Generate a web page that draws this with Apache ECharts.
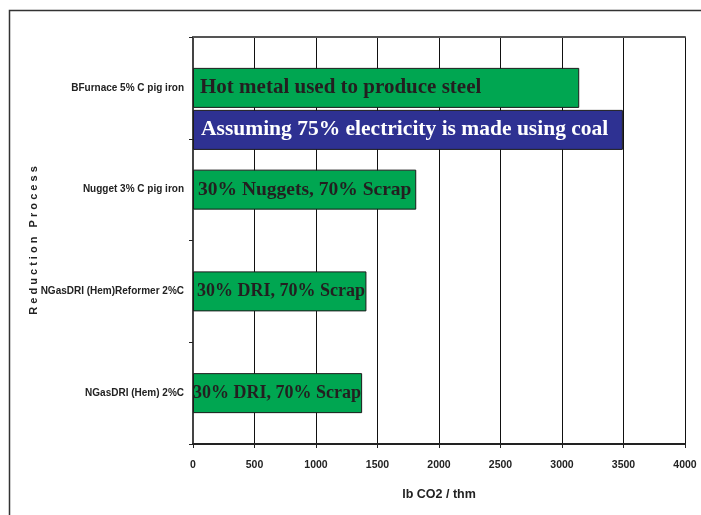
<!DOCTYPE html>
<html>
<head>
<meta charset="utf-8">
<script src="https://cdn.jsdelivr.net/npm/echarts@6/dist/echarts.min.js"></script>
<style>
  html, body { margin: 0; padding: 0; background: #fff; }
  #chart { width: 701px; height: 515px; }
</style>
</head>
<body>
<div id="chart"></div>
<script>
// Reduction processes, top to bottom
const processes = [
  'BFurnace 5% C pig iron',
  'Nugget 3% C pig iron',
  'NGasDRI (Hem)Reformer 2%C',
  'NGasDRI (Hem) 2%C'
];
// lb CO2 per tonne of hot metal (green bars)
const co2Values = [3140, 1815, 1410, 1375];
const co2Notes = [
  'Hot metal used to produce steel',
  '30% Nuggets, 70% Scrap',
  '30% DRI, 70% Scrap',
  '30% DRI, 70% Scrap'
];
// Blast furnace case with coal-fired electricity (blue bar)
const coalValues = [3495, null, null, null];
const coalNotes = ['Assuming 75% electricity is made using coal', '', '', ''];
// Value axis ticks
const xMin = 0, xMax = 4000, xStep = 500;

const labelFont = '"Liberation Sans", Arial, sans-serif';
const barFont = '"Liberation Serif", "Times New Roman", serif';
// inner padding and text size of each note inside its bar
const notePad = [7, 5, 4, 0];
const noteSize = [21, 19.5, 18, 18];

const plotLeft = 193, plotRight = 16, plotTop = 37, plotBottom = 71;
const bandShift = 42;

const chart = echarts.init(document.getElementById('chart'), null, { renderer: 'canvas' });

const option = {
  animation: false,
  backgroundColor: '#fff',
  graphic: [{
    type: 'rect',
    shape: { x: 9.5, y: 10.5, width: 760, height: 560 },
    style: { fill: 'none', stroke: '#333', lineWidth: 1.5 },
    silent: true,
    z: 0
  }],
  grid: [
    { left: plotLeft, right: plotRight, top: plotTop, bottom: plotBottom, containLabel: false, outerBoundsMode: 'none' },
    { left: plotLeft, right: plotRight, top: plotTop + bandShift, bottom: plotBottom - bandShift, containLabel: false, outerBoundsMode: 'none' }
  ],
  xAxis: [
    {
      type: 'value', gridIndex: 0, min: xMin, max: xMax, interval: xStep,
      position: 'bottom',
      name: 'lb CO2 / thm', nameLocation: 'middle', nameGap: 44, nameMoveOverlap: false,
      nameTextStyle: { fontFamily: labelFont, fontWeight: 'bold', fontSize: 12.5, color: '#222' },
      axisLine: { show: true, onZero: false, lineStyle: { color: '#222', width: 2 } },
      axisTick: { show: true, length: 4, lineStyle: { color: '#222' } },
      axisLabel: {
        fontFamily: labelFont, fontWeight: 'bold', fontSize: 10.5, color: '#222', margin: 16,
        formatter: v => String(v)
      },
      splitLine: { show: true, lineStyle: { color: '#111', width: 1 } }
    },
    {
      type: 'value', gridIndex: 0, min: xMin, max: xMax, interval: xStep,
      position: 'top',
      axisLine: { show: true, onZero: false, lineStyle: { color: '#555', width: 2 } },
      axisTick: { show: false }, axisLabel: { show: false }, splitLine: { show: false }
    },
    {
      type: 'value', gridIndex: 1, min: xMin, max: xMax, show: false,
      splitLine: { show: false }
    }
  ],
  yAxis: [
    {
      type: 'category', gridIndex: 0, data: processes, inverse: true,
      name: 'R e d u c t i o n   P r o c e s s', nameLocation: 'middle', nameRotate: 90,
      nameGap: 154, nameMoveOverlap: false,
      nameTextStyle: { fontFamily: labelFont, fontWeight: 'bold', fontSize: 11, color: '#222' },
      axisLine: { show: true, lineStyle: { color: '#444', width: 2 } },
      axisTick: { show: true, length: 4, lineStyle: { color: '#222' } },
      axisLabel: { fontFamily: labelFont, fontWeight: 'bold', fontSize: 10, color: '#222', margin: 9 },
      splitLine: { show: false }
    },
    {
      type: 'category', gridIndex: 1, data: processes, inverse: true, show: false
    }
  ],
  series: [
    {
      type: 'bar', xAxisIndex: 0, yAxisIndex: 0, barWidth: 40,
      itemStyle: { color: '#00A651', borderColor: '#1a1a1a', borderWidth: 1 },
      data: co2Values.map((v, i) => ({
        value: v,
        label: {
          show: true, position: 'insideLeft', distance: notePad[i],
          formatter: co2Notes[i],
          fontFamily: barFont, fontWeight: 'bold', fontSize: noteSize[i], color: '#231F20'
        }
      })),
      z: 3
    },
    {
      type: 'bar', xAxisIndex: 2, yAxisIndex: 1, barWidth: 40,
      itemStyle: { color: '#2E3192', borderColor: '#1a1a1a', borderWidth: 1 },
      data: coalValues.map((v, i) => ({
        value: v,
        label: {
          show: v != null, position: 'insideLeft', distance: 8,
          formatter: coalNotes[i],
          fontFamily: barFont, fontWeight: 'bold', fontSize: 21.5, color: '#fff'
        }
      })),
      z: 3
    }
  ]
};

chart.setOption(option);
</script>
</body>
</html>
